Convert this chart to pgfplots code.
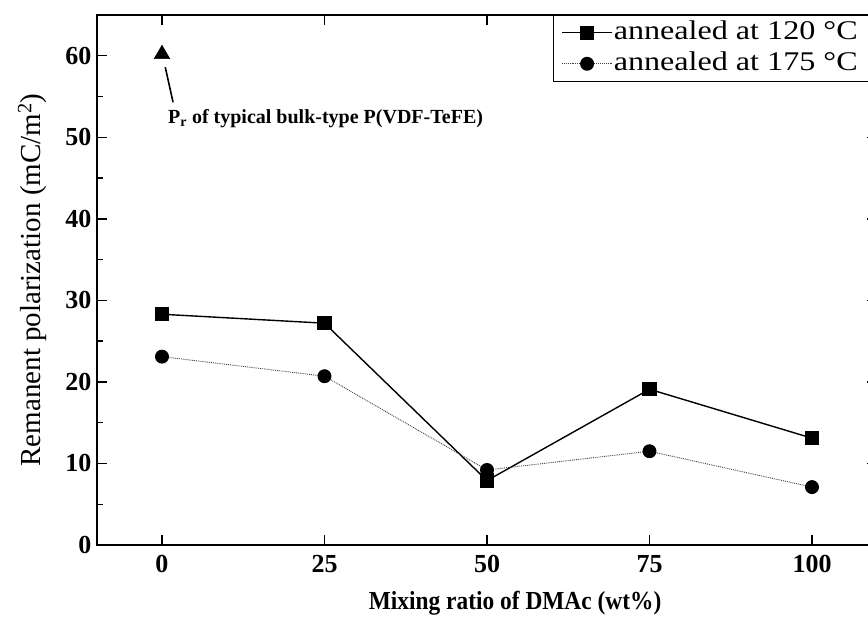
\documentclass[border=0pt]{standalone}
\usepackage{fontspec}
\setmainfont{Liberation Serif}
\newfontfamily\legendfont{Liberation Serif}[FakeStretch=1.19]
\newfontfamily\xlabelfont{Liberation Serif}[FakeStretch=0.9]
\usepackage{pgfplots}
\pgfplotsset{compat=1.18}
\usetikzlibrary{calc}

\begin{document}
\begin{tikzpicture}
\begin{axis}[
  name=ax,
  scale only axis, width=780pt, height=530pt,
  xmin=-10, xmax=110, ymin=0, ymax=65,
  xtick={0,25,50,75,100}, ytick={0,10,...,60},
  minor ytick={5,15,...,55},
  tick align=inside, major tick length=10pt, minor tick length=6pt,
  axis line style={line width=1.8pt},
  every tick/.style={line width=1.4pt, black},
  /pgf/number format/assume math mode=true,
  ticklabel style={font=\bfseries\fontsize{26}{26}\selectfont},
  xticklabel style={yshift=-7pt},
  yticklabel style={xshift=-2pt},
  xlabel={Mixing ratio of DMAc (wt\%)},
  ylabel={Remanent polarization (mC/m\textsuperscript{2})},
  xlabel style={font=\xlabelfont\bfseries\fontsize{26}{26}\selectfont,
    at={(axis description cs:0.536,0)}, anchor=north, yshift=-43pt},
  ylabel style={font=\fontsize{29}{29}\selectfont,
    at={(axis description cs:0,0.5)}, anchor=south, yshift=47pt},
  legend style={at={(1,1)}, anchor=north east, draw=black, line width=0.6pt,
    font=\legendfont\fontsize{27}{27}\selectfont, inner xsep=8pt, inner ysep=2pt,
    row sep=0pt, cells={anchor=west},
    nodes={inner sep=1pt, text height=21pt, text depth=8pt},
    /tikz/every even column/.append style={column sep=2pt}},
  legend image code/.code={\draw[#1, mark repeat=2, mark phase=2]
    plot coordinates {(0pt,0pt) (25pt,0pt) (50pt,0pt)};},
  clip=false,
]
% films annealed at 120 C
\addplot[black, line width=1.4pt, mark=square*, mark size=6.5pt]
  coordinates {(0,28.3) (25,27.2) (50,7.9) (75,19.1) (100,13.1)};
\addlegendentry{annealed at 120 °C\rule{10pt}{0pt}}
% films annealed at 175 C
\addplot[black!75, densely dotted, line width=0.9pt, mark=*, mark size=6.5pt,
  mark options={solid, fill=black, draw=black}]
  coordinates {(0,23.1) (25,20.7) (50,9.2) (75,11.5) (100,7.1)};
\addlegendentry{annealed at 175 °C\rule{10pt}{0pt}}
% reference value for bulk P(VDF-TeFE)
\addplot[only marks, black, mark=triangle*, mark size=9pt, forget plot]
  coordinates {(0,60.2)};
\draw[line width=1.6pt] (axis cs:0.5,58.6) -- (axis cs:1.7,54.3);
\node[anchor=west, font=\bfseries\fontsize{20}{20}\selectfont]
  at (axis cs:0.4,52.3) {P\textsubscript{r} of typical bulk-type P(VDF-TeFE)};
\end{axis}
\pgfresetboundingbox
\path[use as bounding box] ($(ax.south west)+(-97pt,-80pt)$) rectangle ($(ax.north east)+(-9pt,15pt)$);
\end{tikzpicture}
\end{document}
